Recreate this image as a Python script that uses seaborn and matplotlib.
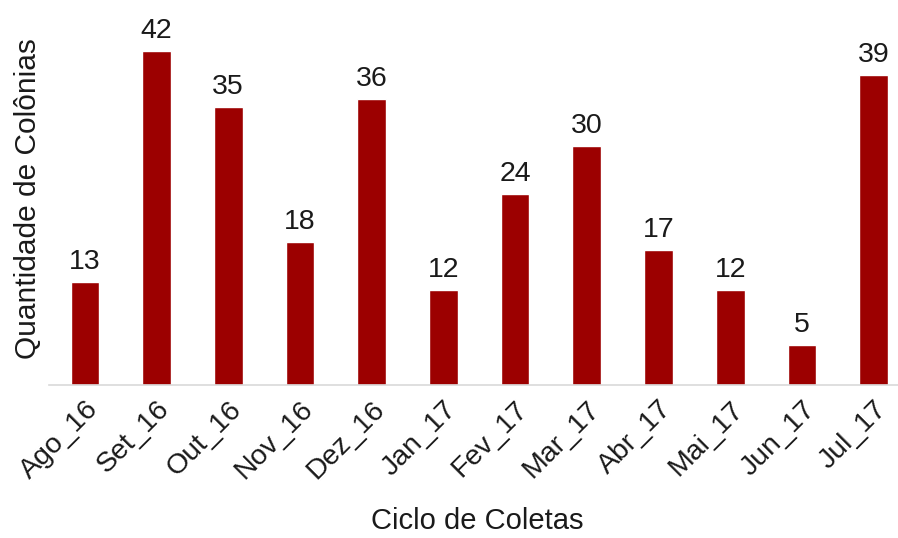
import matplotlib
matplotlib.use("Agg")
import matplotlib.pyplot as plt
import pandas as pd
import seaborn as sns

# Data
meses = ["Ago_16", "Set_16", "Out_16", "Nov_16", "Dez_16", "Jan_17",
         "Fev_17", "Mar_17", "Abr_17", "Mai_17", "Jun_17", "Jul_17"]
colonias = [13, 42, 35, 18, 36, 12, 24, 30, 17, 12, 5, 39]

data = pd.DataFrame({"mes": meses, "colonias": colonias})

sns.set_style("white")
plt.rcParams['font.family'] = ['Liberation Sans', 'DejaVu Sans']

fig = plt.figure(figsize=(8.98, 5.38), dpi=100)
ax = fig.add_axes([49 / 898, 153 / 538, 849 / 898, 358 / 538])

sns.barplot(data=data, x="mes", y="colonias", color="#9C0000",
            width=0.4, saturation=1, ax=ax)

# value labels on top of bars
for c in ax.containers:
    ax.bar_label(c, padding=5, fontsize=20.5, color="#1a1a1a")

ax.set_xlim(-0.5, 11.34)
ax.set_ylim(0, 45)
ax.set_yticks([])
ax.set_xlabel("Ciclo de Coletas", fontsize=21, color="#1a1a1a")
ax.set_ylabel("Quantidade de Colônias", fontsize=21.5, color="#1a1a1a")
ax.yaxis.set_label_coords(-0.008, 0.52)
ax.xaxis.set_label_coords(0.505, -0.34)

ax.tick_params(axis='x', length=0, labelsize=20.5, labelcolor="#1a1a1a", pad=8)
plt.setp(ax.get_xticklabels(), rotation=45, ha="right", rotation_mode="anchor")

sns.despine(ax=ax, left=True, top=True, right=True)
ax.spines["bottom"].set_color("#D9D9D9")
ax.spines["bottom"].set_linewidth(1.2)

fig.savefig("out.png", dpi=100)
